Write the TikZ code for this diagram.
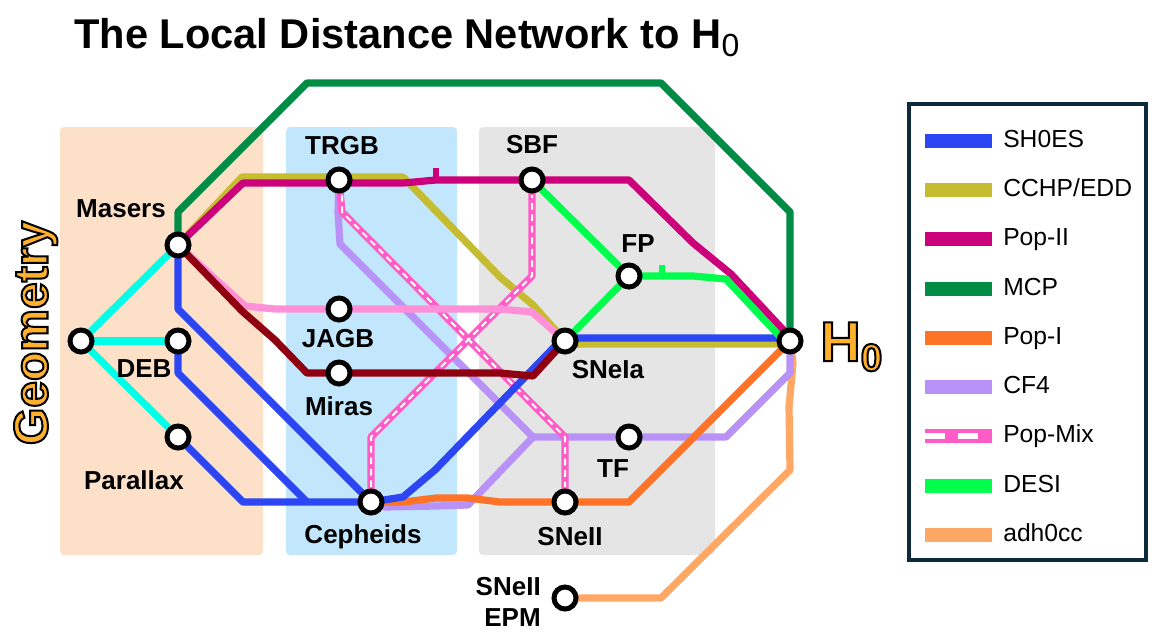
\documentclass[tikz,border=0pt]{standalone}
\usepackage{fontspec}
\setmainfont{Liberation Sans}
\usetikzlibrary{backgrounds}
\definecolor{cPeach}{HTML}{FDE0C8}
\definecolor{cSky}{HTML}{C2E6FC}
\definecolor{cGrey}{HTML}{E5E5E5}
\definecolor{cShoes}{HTML}{2B46F2}
\definecolor{cCchp}{HTML}{C6BC30}
\definecolor{cPopII}{HTML}{CC007A}
\definecolor{cMcp}{HTML}{008C44}
\definecolor{cPopI}{HTML}{FF7326}
\definecolor{cCf}{HTML}{B892F6}
\definecolor{cMix}{HTML}{FF5CC8}
\definecolor{cDesi}{HTML}{00FF4C}
\definecolor{cAdh}{HTML}{FFA866}
\definecolor{cCyan}{HTML}{00FFE6}
\definecolor{cJagb}{HTML}{FF90D8}
\definecolor{cDark}{HTML}{8F0010}
\definecolor{cBox}{HTML}{0C2A3A}
\definecolor{cGold}{HTML}{FFB02E}
\newcommand{\outlined}[2]{\special{pdf:code 2 Tr #1 w 0 0 0 RG}#2\special{pdf:code 0 Tr}}
\pgfdeclarelayer{regions}
\pgfdeclarelayer{lines}
\pgfsetlayers{regions,lines,main}
\tikzset{
  station/.style={circle,draw=black,fill=white,line width=3.75pt,minimum size=16.5pt,inner sep=0pt},
  lbl/.style={font=\fontsize{19.5pt}{22pt}\selectfont\bfseries,inner sep=0pt,anchor=center},
  legtxt/.style={font=\fontsize{18.5pt}{22pt}\selectfont,inner sep=0pt,anchor=base west},
  rail/.style={line width=5.4pt,line join=round,line cap=butt},
  tick/.style={line width=4.4pt},
  region/.style={rounded corners=3pt,draw=none},
  swatch/.style={draw=none,minimum width=50pt,minimum height=10pt,inner sep=0pt,anchor=west},
  mixwhite/.style={line width=1.5pt,white,dash pattern=on 5pt off 3.6pt}
}
\begin{document}
\begin{tikzpicture}[x=0.75pt,y=-0.75pt]
\useasboundingbox (0,0) rectangle (1169,642);
\begin{pgfonlayer}{regions}
\fill[region,cPeach] (60,127) rectangle (263,555);
\fill[region,cSky] (286,127) rectangle (457,555);
\fill[region,cGrey] (479,127) rectangle (715,555);
\end{pgfonlayer}
% stations
\node[station] (geo) at (81,341) {};
\node[station] (masers) at (178,245) {};
\node[station] (deb) at (178,341) {};
\node[station] (parallax) at (178,437) {};
\node[station] (trgb) at (339,180) {};
\node[station] (jagb) at (339,309) {};
\node[station] (miras) at (339,373) {};
\node[station] (cepheids) at (371,502) {};
\node[station] (sbf) at (532,180) {};
\node[station] (fp) at (629,276) {};
\node[station] (snia) at (565,341) {};
\node[station] (tf) at (629,437) {};
\node[station] (snii) at (565,502) {};
\node[station] (epm) at (565,598) {};
\node[station] (hzero) at (790,341) {};
\begin{pgfonlayer}{lines}
% MCP
\draw[rail,cMcp] (masers.center) -- (178,212) -- (307,83) -- (661,83) -- (790,212) -- (hzero.center);
% adh0cc
\draw[rail,cAdh] (epm.center) -- (661,598) -- (790,470) -- (789,407) -- (793,363) -- (hzero.center);
% CF4
\draw[rail,cCf] (trgb.center) -- (338,212) -- (340,244) -- (533,437) -- (tf.center) -- (726,437) -- (790,373) -- (hzero.center);
\draw[rail,cCf] (533,437) -- (468,505) -- (436,506) -- (385,507) -- (cepheids.center);
% Pop-I
\draw[rail,cPopI] (cepheids.center) -- (403,502) -- (436,498) -- (468,498) -- (500,502) -- (snii.center) -- (629,502) -- (hzero.center);
% Cyan
\draw[rail,cCyan] (geo.center) -- (masers.center);
\draw[rail,cCyan] (geo.center) -- (deb.center);
\draw[rail,cCyan] (geo.center) -- (parallax.center);
% CCHP
\draw[rail,cCchp] (masers.center) -- (242,177) -- (403,177) -- (500,277) -- (533,305) -- (565,341) -- (565,344) -- (790,344) -- (hzero.center);
% Pop-Mix
\draw[rail,cMix] (trgb.center) -- (342,212) -- (565,437) -- (snii.center);
\draw[rail,cMix] (cepheids.center) -- (371,437) -- (532,276) -- (sbf.center);
\draw[mixwhite] (342,195) -- (342,212) -- (565,437) -- (565,487);
\draw[mixwhite] (371,487) -- (371,437) -- (532,276) -- (532,195);
% JAGB
\draw[rail,cJagb] (masers.center) -- (245,306) -- (275,309) -- (jagb.center) -- (500,309) -- (532,312) -- (snia.center);
% SH0ES
\draw[rail,cShoes] (masers.center) -- (178,309) -- (cepheids.center);
\draw[rail,cShoes] (deb.center) -- (178,373) -- (307,502);
\draw[rail,cShoes] (parallax.center) -- (243,502) -- (cepheids.center) -- (403,497) -- (435,470) -- (561,340) -- (565,338) -- (790,338) -- (hzero.center);
% Dark red
\draw[rail,cDark] (masers.center) -- (242,311) -- (275,340) -- (307,373) -- (miras.center) -- (500,373) -- (533,376) -- (snia.center);
% Pop-II
\draw[rail,cPopII] (masers.center) -- (243,183) -- (403,183) -- (436,180) -- (sbf.center) -- (629,180) -- (693,243) -- (731,274) -- (790,337) -- (hzero.center);
\draw[tick,cPopII] (436,180) -- (436,168);
% DESI
\draw[rail,cDesi] (sbf.center) -- (fp.center) -- (snia.center);
\draw[rail,cDesi] (fp.center) -- (693,276) -- (726,279) -- (785,342) -- (hzero.center);
\draw[tick,cDesi] (662,276) -- (662,265);
\end{pgfonlayer}
% labels
\node[lbl] (ltrgb) at (342,146) {TRGB};
\node[lbl] (lmasers) at (121,209) {Masers};
\node[lbl] (ldeb) at (144,369) {DEB};
\node[lbl] (lpar) at (134,480) {Parallax};
\node[lbl] (ljagb) at (338,339) {JAGB};
\node[lbl] (lmiras) at (339,406) {Miras};
\node[lbl] (lceph) at (363,537) {Cepheids};
\node[lbl] (lsbf) at (532,145) {SBF};
\node[lbl] (lfp) at (638,244) {FP};
\node[lbl] (lsnia) at (608,370) {SNeIa};
\node[lbl] (ltf) at (613,469) {TF};
\node[lbl] (lsnii) at (570,537) {SNeII};
\node[lbl,align=right,anchor=east] (lepm) at (541,602) {SNeII\\[1pt]EPM};
% title
\node[inner sep=0pt,anchor=base west,font=\fontsize{31.2pt}{36pt}\selectfont\bfseries] (title) at (74,49) {The Local Distance Network to H\raisebox{-6pt}{\fontsize{24pt}{26pt}\selectfont\mdseries 0}};
% outlined
\node[inner sep=0pt,rotate=90,anchor=base,font=\fontsize{36pt}{42pt}\selectfont\bfseries] (geometry) at (47.5,333) {\color{cGold}\outlined{1.5}{Geometry}};
\node[inner sep=0pt,anchor=base west,font=\fontsize{42pt}{46pt}\selectfont\bfseries] (hlabel) at (820,361) {\color{cGold}\outlined{1.5}{H\raisebox{-7.5pt}{\fontsize{29pt}{32pt}\selectfont 0}}};
% legend
\node[draw=cBox,line width=3pt,fill=none,minimum width=177.5pt,minimum height=342pt,inner sep=0pt] (legend) at (1027.5,331.5) {};
\foreach \n/\c/\y/\t in {a/cShoes/141/SH0ES,b/cCchp/190/CCHP\slash EDD,c/cPopII/239/Pop-II,d/cMcp/289/MCP,e/cPopI/338/Pop-I,f/cCf/387/CF4,g/cMix/436/Pop-Mix,h/cDesi/486/DESI,i/cAdh/535/adh0cc}{
  \node[swatch,fill=\c] (sw\n) at (925,\y) {};
  \node[legtxt] (tx\n) at (1003,\y+6.5) {\t};
}
\fill[white] (925,433) rectangle (945,439);
\fill[white] (958,433) rectangle (978,439);
\end{tikzpicture}
\end{document}
